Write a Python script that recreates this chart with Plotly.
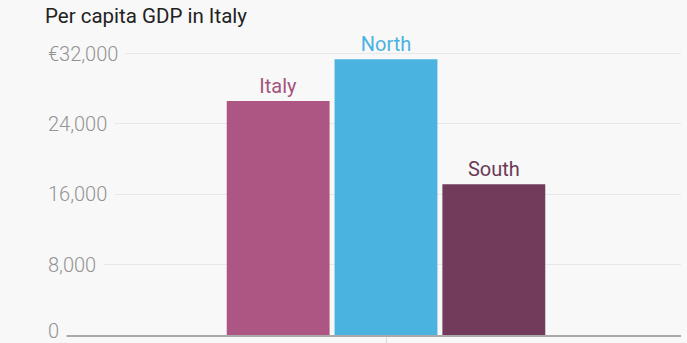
import plotly.graph_objects as go

# Per capita GDP (euros)
regions = ["Italy", "North", "South"]
gdp = [26600, 31350, 17130]
bar_colors = ["#ad5683", "#4ab3e0", "#723b5b"]
label_colors = ["#a3547e", "#4ab3e0", "#6a3a55"]

# Y axis ticks
y_ticks = [0, 8000, 16000, 24000, 32000]
y_tick_text = ["0", "8,000", "16,000", "24,000", "€32,000"]

BG = "#f8f8f8"
FONT = "Roboto"

fig = go.Figure()
for name, val, col, lcol in zip(regions, gdp, bar_colors, label_colors):
    fig.add_trace(go.Bar(
        x=["GDP"], y=[val], name=name,
        marker=dict(color=col, line=dict(width=0)),
        text=[name], textposition="outside", cliponaxis=False,
        textfont=dict(family=FONT, size=20, color=lcol),
        hoverinfo="skip",
    ))

# tick labels drawn over the gridlines with a background patch
for v, t in zip(y_ticks, y_tick_text):
    fig.add_annotation(
        x=0, xref="paper", y=v, yref="y", text=t, showarrow=False,
        xanchor="left", yanchor="middle", xshift=-7, yshift=4 if v == 0 else 0,
        borderpad=7, bgcolor=BG,
        font=dict(family=FONT, size=20, color="#939393", weight=300),
    )

fig.update_layout(
    width=687, height=343,
    margin=dict(l=47, r=6, t=36, b=8, autoexpand=False),
    paper_bgcolor=BG, plot_bgcolor=BG,
    barmode="group", bargap=0.5, bargroupgap=0.046,
    showlegend=False,
    title=dict(
        text="Per capita GDP in Italy", x=45 / 687, xref="container", xanchor="left",
        y=1 - 9 / 343, yref="container", yanchor="top",
        font=dict(family=FONT, size=20.5, color="#222222"),
    ),
    xaxis=dict(
        type="category", range=[-0.524, 0.456], showticklabels=False,
        showgrid=False, showline=True, linecolor="#aaaaaa", linewidth=1.5,
        ticks="outside", ticklen=8, tickcolor="#dddddd", tickwidth=1,
        fixedrange=True, automargin=False,
    ),
    yaxis=dict(
        range=[0, 34000], tickvals=y_ticks, showticklabels=False,
        showgrid=True, gridcolor="#e8e8e8", gridwidth=1, zeroline=False,
        fixedrange=True, automargin=False,
    ),
)

fig.write_html("out.html")
